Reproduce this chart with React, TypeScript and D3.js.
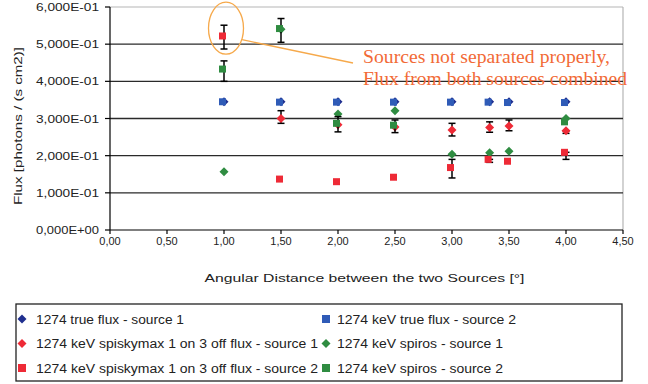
import React from "react";
import * as d3 from "d3";

// ---------- data ----------
const distances = [1.0, 1.5, 2.0, 2.5, 3.0, 3.33, 3.5, 4.0];

const trueFluxS1 = [0.345, 0.345, 0.345, 0.345, 0.345, 0.345, 0.345, 0.345];
const trueFluxS2 = [0.345, 0.344, 0.344, 0.344, 0.344, 0.344, 0.343, 0.343];
const spiskyS1 = [null, 0.3, 0.283, 0.277, 0.269, 0.276, 0.28, 0.267];
const spiskyS1Low = [null, 0.287, null, null, 0.253, 0.263, 0.267, 0.26];
const spiskyS1High = [null, 0.321, null, null, 0.287, 0.291, 0.296, 0.267];
const spirosS1 = [0.157, 0.54, 0.312, 0.321, 0.204, 0.208, 0.212, 0.3];
const spiskyS2 = [0.522, 0.137, 0.13, 0.142, 0.168, 0.19, 0.185, 0.209];
const spiskyS2Low = [0.487, null, null, null, 0.14, 0.182, null, 0.19];
const spiskyS2High = [0.551, null, null, null, 0.19, 0.19, null, 0.209];
const spirosS2 = [0.433, 0.542, 0.287, 0.282, null, null, null, 0.291];
const spirosS2Low = [0.4, 0.505, 0.264, 0.262, null, null, null, null];
const spirosS2High = [0.455, 0.569, 0.305, 0.296, null, null, null, null];

const xTickValues = [0, 0.5, 1, 1.5, 2, 2.5, 3, 3.5, 4, 4.5];
const xTickLabels = ["0,00", "0,50", "1,00", "1,50", "2,00", "2,50", "3,00", "3,50", "4,00", "4,50"];
const yTickValues = [0, 0.1, 0.2, 0.3, 0.4, 0.5, 0.6];
const yTickLabels = ["0,000E+00", "1,000E-01", "2,000E-01", "3,000E-01", "4,000E-01", "5,000E-01", "6,000E-01"];

const seriesNames = [
  "1274 true flux - source 1",
  "1274 keV true flux - source 2",
  "1274 keV spiskymax 1 on 3 off flux - source 1",
  "1274 keV spiros - source 1",
  "1274 keV spiskymax 1 on 3 off flux - source 2",
  "1274 keV spiros - source 2",
];

const xTitle = "Angular Distance between the two Sources [°]";
const yTitle = "Flux [photons / (s cm2)]";
const noteLines = ["Sources not separated properly,", "Flux from both sources combined"];

// ---------- styles ----------
const W = 648;
const H = 384;
const M = { left: 110, right: 623, top: 7, bottom: 230 };
const sans = "'Liberation Sans', Arial, sans-serif";
const serif = "'Liberation Serif', 'Times New Roman', serif";

type Shape = "diamond" | "square";
const seriesStyle: { color: string; shape: Shape }[] = [
  { color: "#1f2f8f", shape: "diamond" },
  { color: "#2f5bb7", shape: "square" },
  { color: "#ee2a36", shape: "diamond" },
  { color: "#2f8c41", shape: "diamond" },
  { color: "#ee2a36", shape: "square" },
  { color: "#2f8c41", shape: "square" },
];
const seriesValues = [trueFluxS1, trueFluxS2, spiskyS1, spirosS1, spiskyS2, spirosS2];
const seriesLow = [null, null, spiskyS1Low, null, spiskyS2Low, spirosS2Low];
const seriesHigh = [null, null, spiskyS1High, null, spiskyS2High, spirosS2High];

const legendPos = [
  [0, 0],
  [1, 0],
  [0, 1],
  [1, 1],
  [0, 2],
  [1, 2],
];
const legendTextW = [148, 179, 282, 166, 282, 166];

function Marker({ shape, color, cx, cy }: { shape: Shape; color: string; cx: number; cy: number }) {
  if (shape === "square") {
    return <rect x={cx - 5} y={cy - 3.5} width={7} height={7} fill={color} />;
  }
  const r = 4.5;
  return (
    <path
      d={`M${cx},${cy - r}L${cx + r},${cy}L${cx},${cy + r}L${cx - r},${cy}Z`}
      fill={color}
    />
  );
}

export default function App() {
  const x = d3.scaleLinear().domain([0, 4.5]).range([M.left, M.right]);
  const y = d3.scaleLinear().domain([0, 0.6]).range([M.bottom, M.top]);

  const ellipseCx = x(1.0) + 2;
  const ellipseCy = y(0.535);

  return (
    <svg
      width={W}
      height={H}
      style={{ position: "absolute", left: 0, top: 0, background: "#fff" }}
      xmlns="http://www.w3.org/2000/svg"
    >
      <rect x={0} y={0} width={W} height={H} fill="#fff" />
      <line x1={M.left} x2={M.right} y1={M.top} y2={M.top} stroke="#b5b5b5" strokeWidth={1.2} />
      <line x1={M.right} x2={M.right} y1={M.top} y2={M.bottom} stroke="#b5b5b5" strokeWidth={1.2} />
      {yTickValues
        .filter((v) => v > 0 && v < 0.6)
        .map((v) => (
          <line key={v} x1={M.left} x2={M.right} y1={y(v)} y2={y(v)} stroke="#2a2a2a" strokeWidth={1.3} />
        ))}
      <line x1={M.left} x2={M.left} y1={M.top} y2={M.bottom} stroke="#000" strokeWidth={1.2} />
      <line x1={M.left} x2={M.right} y1={M.bottom} y2={M.bottom} stroke="#000" strokeWidth={1.2} />
      {yTickValues.map((v, i) => (
        <g key={"yt" + v}>
          <line x1={M.left - 5} x2={M.left} y1={y(v)} y2={y(v)} stroke="#000" strokeWidth={1.2} />
          <text
            x={99}
            y={y(v) + 4}
            textAnchor="end"
            fontFamily={sans}
            fontSize={11}
            textLength={63}
            lengthAdjust="spacingAndGlyphs"
            fill="#222"
          >
            {yTickLabels[i]}
          </text>
        </g>
      ))}
      {xTickValues.map((v, i) => (
        <g key={"xt" + v}>
          <line x1={x(v)} x2={x(v)} y1={M.bottom} y2={M.bottom + 4} stroke="#000" strokeWidth={1.2} />
          <text x={x(v)} y={M.bottom + 15} textAnchor="middle" fontFamily={sans} fontSize={11} fill="#222">
            {xTickLabels[i]}
          </text>
        </g>
      ))}
      <text
        x={(M.left + M.right) / 2 - 2}
        y={282}
        textAnchor="middle"
        fontFamily={sans}
        fontSize={11.5}
        textLength={320}
        lengthAdjust="spacingAndGlyphs"
        fill="#222"
      >
        {xTitle}
      </text>
      <text
        transform={`translate(22,126) rotate(-90)`}
        textAnchor="middle"
        fontFamily={sans}
        fontSize={11.5}
        textLength={158}
        lengthAdjust="spacingAndGlyphs"
        fill="#222"
      >
        {yTitle}
      </text>

      {seriesValues.map((vals, si) => {
        const st = seriesStyle[si];
        const lo = seriesLow[si];
        const hi = seriesHigh[si];
        return (
          <g key={"s" + si}>
            {lo &&
              hi &&
              distances.map((dx, i) => {
                const l = lo[i];
                const h = hi[i];
                if (l == null || h == null) return null;
                const px = x(dx);
                return (
                  <g key={"e" + i} stroke="#000" strokeWidth={1.5}>
                    <line x1={px} x2={px} y1={y(l)} y2={y(h)} />
                    <line x1={px - 3.5} x2={px + 3.5} y1={y(l)} y2={y(l)} />
                    <line x1={px - 3.5} x2={px + 3.5} y1={y(h)} y2={y(h)} />
                  </g>
                );
              })}
            {distances.map((dx, i) => {
              const v = vals[i];
              if (v == null) return null;
              return <Marker key={"m" + i} shape={st.shape} color={st.color} cx={x(dx)} cy={y(v)} />;
            })}
          </g>
        );
      })}

      <ellipse cx={ellipseCx} cy={ellipseCy - 3} rx={17.5} ry={26} fill="none" stroke="#f6a94b" strokeWidth={1.3} />
      <line x1={ellipseCx + 16} y1={y(0.512)} x2={353} y2={63} stroke="#f6a94b" strokeWidth={1.3} />
      <text x={363} y={63} fontFamily={serif} fontSize={18} textLength={247} lengthAdjust="spacingAndGlyphs" fill="#f26a36">
        {noteLines[0]}
      </text>
      <text x={363} y={85} fontFamily={serif} fontSize={18} textLength={264} lengthAdjust="spacingAndGlyphs" fill="#f26a36">
        {noteLines[1]}
      </text>

      <rect x={16} y={304} width={606} height={77} fill="#fff" stroke="#222" strokeWidth={1.3} />
      {seriesNames.map((name, i) => {
        const [col, row] = legendPos[i];
        const mx = col === 0 ? 22 : 326;
        const tx = col === 0 ? 36 : 337;
        const cy = 319 + row * 24.5;
        const st = seriesStyle[i];
        return (
          <g key={"lg" + i}>
            {st.shape === "square" ? (
              <rect x={mx - 4} y={cy - 4} width={8} height={8} fill={st.color} />
            ) : (
              <path d={`M${mx},${cy - 4.5}L${mx + 4.5},${cy}L${mx},${cy + 4.5}L${mx - 4.5},${cy}Z`} fill={st.color} />
            )}
            <text
              x={tx}
              y={cy + 4.5}
              fontFamily={sans}
              fontSize={12}
              textLength={legendTextW[i]}
              lengthAdjust="spacingAndGlyphs"
              fill="#222"
            >
              {name}
            </text>
          </g>
        );
      })}
    </svg>
  );
}
